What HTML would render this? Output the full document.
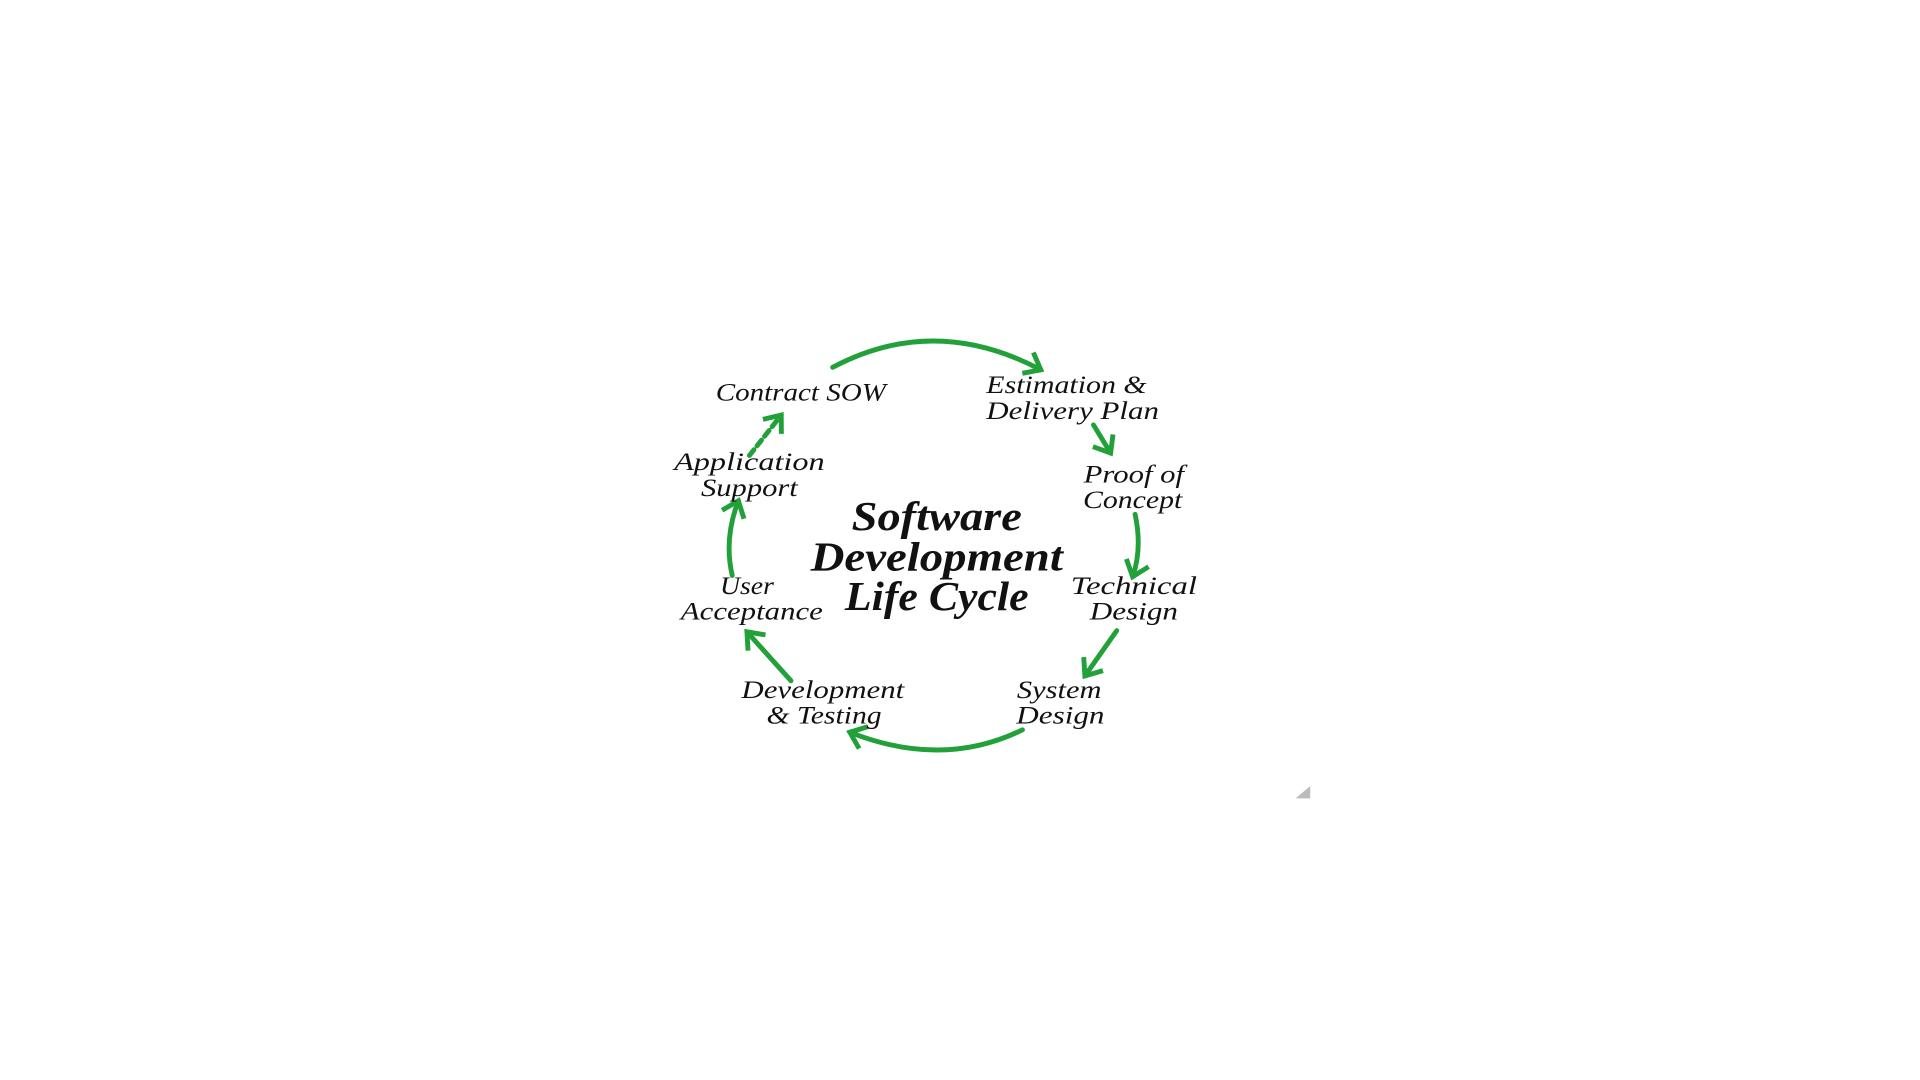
<!DOCTYPE html>
<html><head><meta charset="utf-8"><style>
html,body{margin:0;padding:0;background:#fff;width:1920px;height:1080px;overflow:hidden}
svg{display:block}
text{font-family:"Liberation Serif",serif;font-style:italic;fill:#111;text-anchor:middle}
.l{font-size:21px}
.t{font-size:34px;font-weight:bold}
</style></head><body>
<svg width="1920" height="1080" viewBox="0 0 1568 882" xmlns="http://www.w3.org/2000/svg">
<defs>
<marker id="a" markerWidth="6" markerHeight="6" refX="4" refY="3" orient="auto" markerUnits="strokeWidth">
<path d="M1,0.6 L4,3 L1,5.4" fill="none" stroke="#22a03a" stroke-width="1"/>
</marker>
</defs>
<g fill="none" stroke="#22a03a" stroke-width="4" stroke-linecap="round" marker-end="url(#a)">
<path d="M680,300 Q763,256 850,302"/>
<path d="M893,347 L907,370"/>
<path d="M927,420 Q933,448 925,471"/>
<path d="M912,515 L886,552"/>
<path d="M835,596 Q770,628 694,598"/>
<path d="M646,556 L610,516"/>
<path d="M598,470 Q591,440 603,409"/>
<path d="M612,372 L638,339" stroke-dasharray="6,4"/>
</g>
<path d="M1058,652 L1070,642 L1070,652 Z" fill="#bbb"/>
<g lengthAdjust="spacingAndGlyphs">
<text class="l" x="654" y="327" textLength="139" lengthAdjust="spacingAndGlyphs">Contract SOW</text>
<text class="l" x="871" y="321" textLength="131" lengthAdjust="spacingAndGlyphs">Estimation &amp;</text>
<text class="l" x="876" y="342" textLength="141" lengthAdjust="spacingAndGlyphs">Delivery Plan</text>
<text class="l" x="926" y="394" textLength="82" lengthAdjust="spacingAndGlyphs">Proof of</text>
<text class="l" x="925" y="415" textLength="81" lengthAdjust="spacingAndGlyphs">Concept</text>
<text class="l" x="926" y="485" textLength="103" lengthAdjust="spacingAndGlyphs">Technical</text>
<text class="l" x="926" y="506" textLength="72" lengthAdjust="spacingAndGlyphs">Design</text>
<text class="l" x="865" y="570" textLength="69" lengthAdjust="spacingAndGlyphs">System</text>
<text class="l" x="866" y="591" textLength="72" lengthAdjust="spacingAndGlyphs">Design</text>
<text class="l" x="672" y="570" textLength="133" lengthAdjust="spacingAndGlyphs">Development</text>
<text class="l" x="673" y="591" textLength="94" lengthAdjust="spacingAndGlyphs">&amp; Testing</text>
<text class="l" x="610" y="485" textLength="44" lengthAdjust="spacingAndGlyphs">User</text>
<text class="l" x="614" y="506" textLength="116" lengthAdjust="spacingAndGlyphs">Acceptance</text>
<text class="l" x="612" y="384" textLength="123" lengthAdjust="spacingAndGlyphs">Application</text>
<text class="l" x="612" y="405" textLength="79" lengthAdjust="spacingAndGlyphs">Support</text>
<text class="t" x="765" y="433" textLength="139" lengthAdjust="spacingAndGlyphs">Software</text>
<text class="t" x="765" y="466" textLength="206" lengthAdjust="spacingAndGlyphs">Development</text>
<text class="t" x="765" y="498" textLength="150" lengthAdjust="spacingAndGlyphs">Life Cycle</text>
</g>
</svg>
</body></html>
